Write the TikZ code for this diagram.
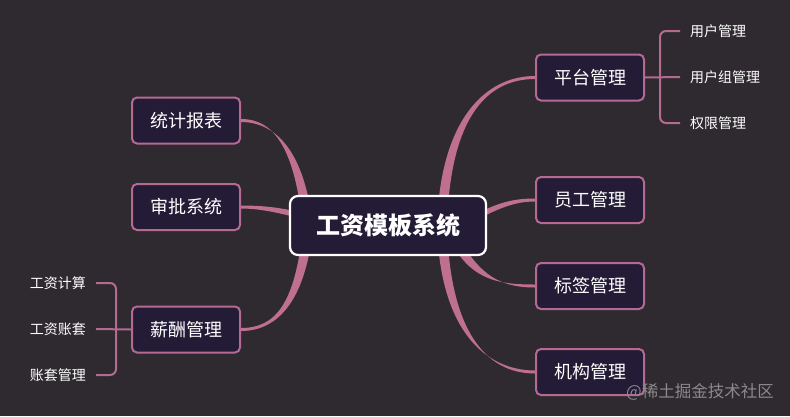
\documentclass[tikz,border=0pt]{standalone}
\usepackage{fontspec}
\setmainfont{Noto Sans CJK SC}
\usetikzlibrary{calc}
\definecolor{bgc}{HTML}{2E2A2F}
\definecolor{branchc}{HTML}{C0708F}
\definecolor{edgec}{HTML}{B56A92}
\definecolor{boxfill}{HTML}{241B37}
\definecolor{wmark}{HTML}{8C888C}
\pgfdeclarelayer{back}\pgfdeclarelayer{mid}
\pgfsetlayers{back,mid,main}
\tikzset{
 topic/.style={draw=edgec, line width=2pt, fill=boxfill, rounded corners=5pt, minimum width=108pt, minimum height=46pt, inner sep=0pt, text=white, font=\fontsize{18}{21}\selectfont},
 root/.style={draw=white, line width=2.2pt, fill=boxfill, rounded corners=8pt, minimum width=196pt, minimum height=59pt, inner sep=0pt, text=white, font=\fontsize{24}{28}\selectfont\bfseries},
 leaf/.style={text=white, font=\fontsize{14}{16}\selectfont, inner sep=0pt},
 bracket/.style={draw=edgec, line width=2pt, rounded corners=6pt},
 branch/.style={fill=branchc},
}
\newcommand\taper[6]{\fill[branch] ($#1+#5$) .. controls ($#2+#5$) and ($#3+#6$) .. ($#4+#6$) -- ($#4-#6$) .. controls ($#3-#6$) and ($#2-#5$) .. ($#1-#5$) -- cycle;}
\begin{document}
\begin{tikzpicture}[x=1pt,y=-1pt]
\useasboundingbox (0,0) rectangle (790,416);
\begin{pgfonlayer}{back}
\fill[bgc] (0,0) rectangle (790,416);
\end{pgfonlayer}
% root
\node[root] (root) at (388,225.5) {工资模板系统};
\coordinate (hubR) at (442,226);
\coordinate (hubL) at (308,228);
% right topics
\node[topic] (pt) at (590,77.5) {平台管理};
\node[topic] (yg) at (590,200) {员工管理};
\node[topic] (bq) at (590,286) {标签管理};
\node[topic] (jg) at (590,372) {机构管理};
% left topics
\node[topic] (tj) at (186,120.5) {统计报表};
\node[topic] (sp) at (186,207) {审批系统};
\node[topic] (xc) at (186,329.5) {薪酬管理};
% right leaves
\node[leaf, anchor=west] (r1) at (690,31) {用户管理};
\node[leaf, anchor=west] (r2) at (690,77) {用户组管理};
\node[leaf, anchor=west] (r3) at (690,123) {权限管理};
% left leaves
\node[leaf, anchor=east] (a1) at (86,283) {工资计算};
\node[leaf, anchor=east] (a2) at (86,329) {工资账套};
\node[leaf, anchor=east] (a3) at (86,375) {账套管理};
% branches
\begin{pgfonlayer}{mid}
\taper{(hubR)}{(445,120)}{(485,77.5)}{(pt.west)}{(5,0)}{(0,1.5)}
\taper{(hubR)}{(445,330)}{(485,372)}{(jg.west)}{(5,0)}{(0,1.5)}
\taper{(455,240)}{(476,278)}{(500,286)}{(bq.west)}{(3.5,-3)}{(0,1.5)}
\taper{(478,216)}{(500,205)}{(515,200)}{(yg.west)}{(0,3)}{(0,1.5)}
\taper{(hubL)}{(300,150)}{(275,120.5)}{(tj.east)}{(5,0)}{(0,1.5)}
\taper{(hubL)}{(300,305)}{(275,329.5)}{(xc.east)}{(5,0)}{(0,1.5)}
\taper{(302,216)}{(280,210)}{(260,207)}{(sp.east)}{(0,3)}{(0,1.5)}
% brackets
\draw[bracket] (pt.east) -- ($(r2.west)+(-10,0)$);
\draw[bracket] ($(r1.west)+(-10,0)$) -| (660,77) |- ($(r3.west)+(-10,0)$);
\draw[bracket] (xc.west) -- ($(a2.east)+(10,0)$);
\draw[bracket] ($(a1.east)+(10,0)$) -| (116,329) |- ($(a3.east)+(10,0)$);
\end{pgfonlayer}
% watermark
\node[text=wmark, font=\fontsize{16.5}{19}\selectfont, anchor=west, inner sep=0pt] (wm) at (626,392) {@稀土掘金技术社区};
\end{tikzpicture}
\end{document}
